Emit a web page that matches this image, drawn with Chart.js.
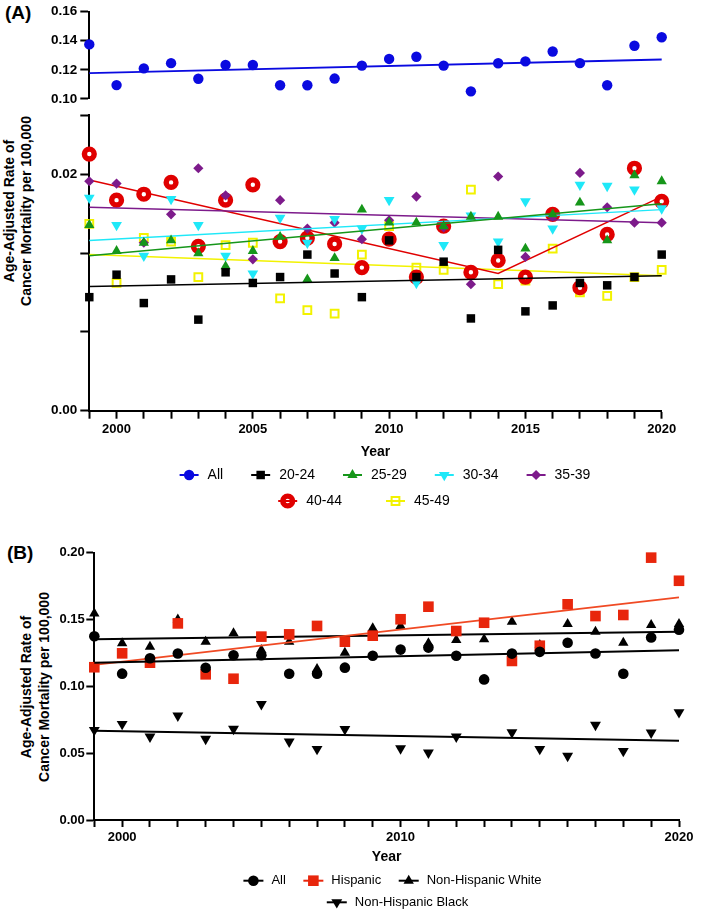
<!DOCTYPE html>
<html>
<head>
<meta charset="utf-8">
<script src="https://cdn.jsdelivr.net/npm/chart.js@4.4.1/dist/chart.umd.min.js"></script>
<style>
    body { margin: 0; background: #fff; }
    #page { position: relative; width: 709px; height: 915px; font-family: 'Liberation Sans', Arial, sans-serif; color: #000; overflow: hidden; }
    #page canvas { position: absolute; left: 0; }
    .tag { position: absolute; font-size: 19px; font-weight: bold; line-height: 20px; }
    .ytitle { position: absolute; font-size: 14px; font-weight: bold; text-align: center; white-space: nowrap; transform: translate(-50%, -50%) rotate(-90deg); }
</style>
</head>
<body>
<div id="page">
    <div class="tag" style="left:5px; top:3px;">(A)</div>
    <div class="ytitle" style="left:17.5px; top:210.5px; line-height:17px;">Age-Adjusted Rate of<br>Cancer Mortality per 100,000</div>
    <canvas id="chartATop" width="709" height="110" style="top:0;"></canvas>
    <canvas id="chartA" width="709" height="420" style="top:100px;"></canvas>

    <div class="tag" style="left:7px; top:543px;">(B)</div>
    <div class="ytitle" style="left:35px; top:687px; line-height:18px;">Age-Adjusted Rate of<br>Cancer Mortality per 100,000</div>
    <canvas id="chartB" width="709" height="385" style="top:530px;"></canvas>
</div>

<script>
const FONT = "'Liberation Sans', Arial, sans-serif";
Chart.defaults.font.family = FONT;

// ---- data ----
const years = [1999, 2000, 2001, 2002, 2003, 2004, 2005, 2006, 2007, 2008, 2009,
               2010, 2011, 2012, 2013, 2014, 2015, 2016, 2017, 2018, 2019, 2020];

const allRate = [0.1375, 0.1095, 0.1210, 0.1246, 0.1139, 0.1233, 0.1233, 0.1094, 0.1094, 0.1140, 0.1229,
                 0.1275, 0.1290, 0.1229, 0.1052, 0.1245, 0.1258, 0.1326, 0.1246, 0.1094, 0.1366, 0.1424];

const age2024 = [0.0096, 0.0115, 0.0091, 0.0111, 0.0077, 0.0117, 0.0108, 0.0113, 0.0132, 0.0116, 0.0096,
                 0.0144, 0.0113, 0.0126, 0.0078, 0.0136, 0.0084, 0.0089, 0.0108, 0.0106, 0.0113, 0.0132];
const age2529 = [0.0157, 0.0135, 0.0142, 0.0144, 0.0133, 0.0122, 0.0135, 0.0147, 0.0111, 0.0129, 0.0170,
                 0.0159, 0.0159, 0.0156, 0.0164, 0.0164, 0.0137, 0.0166, 0.0176, 0.0144, 0.0199, 0.0194];
const age3034 = [0.0180, 0.0157, 0.0131, 0.0179, 0.0157, 0.0131, 0.0116, 0.0163, 0.0142, 0.0162, 0.0154,
                 0.0178, 0.0108, 0.0140, 0.0165, 0.0143, 0.0177, 0.0154, 0.0191, 0.0190, 0.0187, 0.0171];
const age3539 = [0.0194, 0.0192, 0.0142, 0.0166, 0.0205, 0.0182, 0.0128, 0.0178, 0.0154, 0.0159, 0.0145,
                 0.0161, 0.0181, 0.0155, 0.0107, 0.0198, 0.0130, 0.0164, 0.0201, 0.0172, 0.0159, 0.0159];
const age4044 = [0.0217, 0.0178, 0.0183, 0.0193, 0.0139, 0.0178, 0.0191, 0.0143, 0.0146, 0.0141, 0.0121,
                 0.0145, 0.0113, 0.0156, 0.0117, 0.0127, 0.0113, 0.0166, 0.0104, 0.0149, 0.0205, 0.0177];
const age4549 = [0.0158, 0.0108, 0.0146, 0.0143, 0.0113, 0.0140, 0.0142, 0.0095, 0.0085, 0.0082, 0.0132,
                 0.0156, 0.0121, 0.0119, 0.0187, 0.0107, 0.0110, 0.0137, 0.0100, 0.0097, 0.0113, 0.0119];

const hispanic = [0.1143, 0.1247, 0.1177, 0.1471, 0.1090, 0.1057, 0.1372, 0.1389, 0.1452, 0.1334, 0.1379,
                  0.1502, 0.1596, 0.1414, 0.1476, 0.1190, 0.1304, 0.1614, 0.1526, 0.1534, 0.1963, 0.1790];
const nhWhite  = [0.1546, 0.1322, 0.1297, 0.1500, 0.1334, 0.1397, 0.1272, 0.1334, 0.1130, 0.1252, 0.1434,
                  0.1452, 0.1322, 0.1347, 0.1352, 0.1484, 0.1310, 0.1467, 0.1409, 0.1327, 0.1459, 0.1467];
const nhBlack  = [0.0673, 0.0718, 0.0623, 0.0780, 0.0606, 0.0681, 0.0866, 0.0586, 0.0531, 0.0679, null,
                  0.0536, 0.0504, 0.0623, null, 0.0656, 0.0531, 0.0479, 0.0711, 0.0516, 0.0653, 0.0806];

// fitted lines, end points
const fitYears = [1999, 2020];
const fitYears4044 = [1999, 2014, 2020];
const allFit = [0.1177, 0.1271];
const fit2024 = [0.0105, 0.0114];
const fit2529 = [0.0131, 0.0175];
const fit3034 = [0.0144, 0.0170];
const fit3539 = [0.0172, 0.0159];
const fit4044 = [0.0195, 0.0116, 0.0181];
const fit4549 = [0.0132, 0.0114];
const hispFit = [0.1160, 0.1666];
const nhwFit  = [0.1352, 0.1409];
const nhbFit  = [0.0668, 0.0593];

// axes
const aTopTicks = [0.10, 0.12, 0.14, 0.16];
const aTopLabels = ['0.10', '0.12', '0.14', '0.16'];
const aLowTicks = [0, 0.0067, 0.0133, 0.02, 0.025];
const aLowLabels = ['0.00', '', '', '0.02', ''];
const bTicks = [0, 0.05, 0.10, 0.15, 0.20];
const bLabels = ['0.00', '0.05', '0.10', '0.15', '0.20'];
const aYearLabels = [2000, 2005, 2010, 2015, 2020];
const bYearLabels = [2000, 2010, 2020];

const aLegendLabels = ['All', '20-24', '25-29', '30-34', '35-39', '40-44', '45-49'];
const bLegendLabels = ['All', 'Hispanic', 'Non-Hispanic White', 'Non-Hispanic Black'];

// ---- styles ----
const BLUE = '#0a0ae0', GREEN = '#16961a', CYAN = '#1fe8f8', PURPLE = '#7d1b8b',
      RED = '#e00000', YELLOW = '#f2f200', HISP = '#e8260c', HISP_LINE = '#f04a24';

const aMarkers = [
    {style: 'circle',   radius: 5.2, fill: BLUE,   stroke: BLUE,   border: 0},
    {style: 'rect',     radius: 6,   fill: '#000', stroke: '#000', border: 0},
    {style: 'triangle', radius: 5.9, fill: GREEN,  stroke: GREEN,  border: 0},
    {style: 'triangle', radius: 6.2, fill: CYAN,   stroke: CYAN,   border: 0, rotation: 180},
    {style: 'rectRot',  radius: 5.1, fill: PURPLE, stroke: PURPLE, border: 0},
    {style: 'circle',   radius: 4.9, fill: '#fff', stroke: RED,    border: 5.4},
    {style: 'rect',     radius: 5.5, fill: 'rgba(0,0,0,0)', stroke: YELLOW, border: 2}
];
const bMarkers = [
    {style: 'circle',   radius: 5.3, fill: '#000', stroke: '#000', border: 0},
    {style: 'rect',     radius: 7.5, fill: HISP,   stroke: HISP,   border: 0},
    {style: 'triangle', radius: 6,   fill: '#000', stroke: '#000', border: 0},
    {style: 'triangle', radius: 6.3, fill: '#000', stroke: '#000', border: 0, rotation: 180}
];

function points(vals) {
    return years.map((yr, i) => ({x: yr, y: vals[i]}));
}

function markerSet(label, vals, m) {
    return {
        label: label,
        data: points(vals),
        showLine: false,
        pointStyle: m.style,
        pointRadius: m.radius,
        pointRotation: m.rotation || 0,
        pointBackgroundColor: m.fill,
        pointBorderColor: m.stroke,
        pointBorderWidth: m.border,
        clip: false
    };
}

function fitSet(xs, ys, color, width) {
    return {
        data: xs.map((x, i) => ({x: x, y: ys[i]})),
        showLine: true,
        borderColor: color,
        borderWidth: width,
        pointRadius: 0,
        tension: 0,
        clip: false
    };
}

function yScale(min, max, values, labels, size, tickLen, pad, width) {
    return {
        type: 'linear',
        min: min,
        max: max,
        afterBuildTicks: s => { s.ticks = values.map(v => ({value: v})); },
        afterFit: s => { s.width = width; },
        grid: { drawOnChartArea: false, tickLength: tickLen, tickWidth: 2, tickColor: '#000' },
        border: { color: '#000', width: 2 },
        ticks: {
            autoSkip: false,
            color: '#000',
            padding: pad,
            font: { size: size, weight: 'bold' },
            callback: (v, i) => labels[i]
        }
    };
}

function xScale(labelled, tickLen, height) {
    return {
        type: 'linear',
        min: 1999,
        max: 2020,
        afterBuildTicks: s => { s.ticks = years.map(v => ({value: v})); },
        afterFit: s => { s.height = height; },
        grid: { drawOnChartArea: false, tickLength: tickLen, tickWidth: 2, tickColor: '#000' },
        border: { color: '#000', width: 2 },
        ticks: {
            autoSkip: false,
            maxRotation: 0,
            minRotation: 0,
            color: '#000',
            padding: 3,
            font: { size: 13, weight: 'bold' },
            callback: v => labelled.includes(v) ? String(v) : ''
        },
        title: { display: true, text: 'Year', color: '#000', padding: 0, font: { size: 14, weight: 'bold' } }
    };
}

// legend laid out in centred rows, marker with a line through it
function rowLegend(cfg) {
    return {
        id: 'rowLegend',
        afterDraw(chart) {
            const ctx = chart.ctx;
            ctx.save();
            ctx.font = cfg.font;
            ctx.textBaseline = 'middle';
            cfg.rows.forEach((row, r) => {
                const widths = row.map(i => cfg.iconW + cfg.gap + ctx.measureText(cfg.labels[i]).width);
                const total = widths.reduce((a, b) => a + b, 0) + cfg.spacing[r] * (row.length - 1);
                let x = cfg.centers[r] - total / 2;
                const y = cfg.ys[r];
                row.forEach((i, k) => {
                    const m = cfg.markers[i];
                    ctx.fillStyle = m.fill;
                    ctx.strokeStyle = m.stroke;
                    ctx.lineWidth = m.border;
                    Chart.helpers.drawPoint(ctx, {
                        pointStyle: m.style, radius: m.radius, rotation: m.rotation || 0, borderWidth: m.border
                    }, x + cfg.iconW / 2, y);
                    ctx.strokeStyle = m.stroke;
                    ctx.lineWidth = 2;
                    ctx.beginPath();
                    ctx.moveTo(x, y);
                    ctx.lineTo(x + cfg.iconW, y);
                    ctx.stroke();
                    ctx.fillStyle = '#000';
                    ctx.fillText(cfg.labels[i], x + cfg.iconW + cfg.gap, y);
                    x += widths[k] + cfg.spacing[r];
                });
            });
            ctx.restore();
        }
    };
}

const baseOptions = {
    responsive: false,
    animation: false,
    events: [],
    plugins: { legend: { display: false }, tooltip: { enabled: false } }
};

// ---- panel A, upper segment ----
new Chart(document.getElementById('chartATop'), {
    type: 'scatter',
    data: {
        datasets: [
            markerSet('All', allRate, aMarkers[0]),
            fitSet(fitYears, allFit, BLUE, 1.8)
        ]
    },
    options: {
        ...baseOptions,
        layout: { autoPadding: false, padding: { left: 0, right: 47.3, top: 11.7, bottom: 10 } },
        scales: {
            x: { type: 'linear', min: 1999, max: 2020, display: false },
            y: yScale(0.10, 0.16, aTopTicks, aTopLabels, 13.5, 9, 3, 89.3)
        }
    }
});

// ---- panel A, lower segment ----
new Chart(document.getElementById('chartA'), {
    type: 'scatter',
    data: {
        datasets: [
            markerSet('20-24', age2024, aMarkers[1]),
            fitSet(fitYears, fit2024, '#000', 1.5),
            markerSet('25-29', age2529, aMarkers[2]),
            fitSet(fitYears, fit2529, GREEN, 1.5),
            markerSet('30-34', age3034, aMarkers[3]),
            fitSet(fitYears, fit3034, CYAN, 1.5),
            markerSet('35-39', age3539, aMarkers[4]),
            fitSet(fitYears, fit3539, PURPLE, 1.5),
            markerSet('40-44', age4044, aMarkers[5]),
            fitSet(fitYears4044, fit4044, RED, 1.5),
            markerSet('45-49', age4549, aMarkers[6]),
            fitSet(fitYears, fit4549, YELLOW, 1.5)
        ]
    },
    options: {
        ...baseOptions,
        layout: { autoPadding: false, padding: { left: 0, right: 47.3, top: 15, bottom: 59.6 } },
        scales: {
            x: xScale(aYearLabels, 8, 49.7),
            y: yScale(0, 0.025, aLowTicks, aLowLabels, 13.5, 9, 3, 89.3)
        }
    },
    plugins: [rowLegend({
        labels: aLegendLabels,
        markers: aMarkers,
        rows: [[0, 1, 2, 3, 4], [5, 6]],
        centers: [385, 364],
        ys: [375, 401],
        spacing: [28, 44],
        iconW: 19,
        gap: 9,
        font: '14px ' + FONT
    })]
});

// ---- panel B ----
new Chart(document.getElementById('chartB'), {
    type: 'scatter',
    data: {
        datasets: [
            markerSet('All', allRate, bMarkers[0]),
            fitSet(fitYears, allFit, '#000', 2),
            markerSet('Hispanic', hispanic, bMarkers[1]),
            fitSet(fitYears, hispFit, HISP_LINE, 1.8),
            markerSet('Non-Hispanic White', nhWhite, bMarkers[2]),
            fitSet(fitYears, nhwFit, '#000', 2),
            markerSet('Non-Hispanic Black', nhBlack, bMarkers[3]),
            fitSet(fitYears, nhbFit, '#000', 2)
        ]
    },
    options: {
        ...baseOptions,
        layout: { autoPadding: false, padding: { left: 0, right: 30, top: 22.7, bottom: 49.6 } },
        scales: {
            x: xScale(bYearLabels, 7, 45.4),
            y: yScale(0, 0.20, bTicks, bLabels, 13, 8, 1.5, 94.3)
        }
    },
    plugins: [rowLegend({
        labels: bLegendLabels,
        markers: bMarkers,
        rows: [[0, 1, 2], [3]],
        centers: [392.5, 397.5],
        ys: [350.7, 372.3],
        spacing: [17.5, 0],
        iconW: 20,
        gap: 8,
        font: '13px ' + FONT
    })]
});
</script>
</body>
</html>
